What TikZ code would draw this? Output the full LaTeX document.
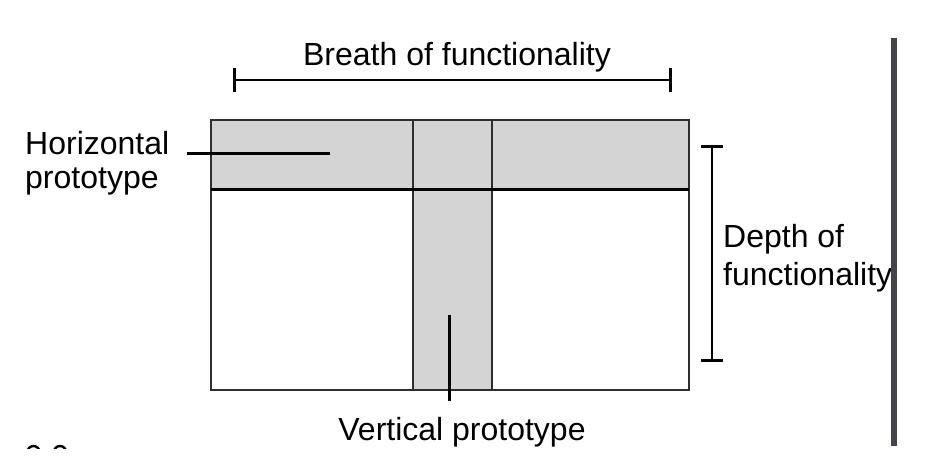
\documentclass[tikz,border=0pt]{standalone}
\usepackage{fontspec}
\setmainfont{Liberation Sans}
\usetikzlibrary{arrows.meta}
\definecolor{bandgrey}{HTML}{D4D4D4}
\definecolor{edgegrey}{HTML}{2E2E2E}
\definecolor{bargrey}{HTML}{434548}
\begin{document}
\begin{tikzpicture}[x=1pt,y=-1pt,
  lbl/.style={font=\fontsize{32}{34}\selectfont, inner sep=0pt, anchor=base west},
  bandbox/.style={fill=bandgrey, draw=none, inner sep=0pt},
  edge/.style={draw=edgegrey, line width=1.8pt},
  ptr/.style={line width=3pt, black},
  dimline/.style={line width=2.6pt, black, {Bar[width=24pt]}-{Bar[width=24pt]}}]
\useasboundingbox (0,0) rectangle (936,475);
% bands
\node[bandbox, minimum width=478pt, minimum height=69pt] (hband) at (450,154.5) {};
\node[bandbox, minimum width=79pt, minimum height=270pt] (vband) at (452.5,255) {};
% frame
\node[edge, inner sep=0pt, minimum width=478pt, minimum height=270pt] (frame) at (450,255) {};
\draw[edge] (vband.north west) -- (vband.south west);
\draw[edge] (vband.north east) -- (vband.south east);
\draw[line width=3.4pt, black] (hband.south west) -- (hband.south east);
% labels
\node[lbl, anchor=base] (breath) at (457,65) {Breath of functionality};
\node[lbl] (horA) at (25,154) {Horizontal};
\node[lbl] (horB) at (25,188) {prototype};
\node[lbl, anchor=base] (vert) at (462,440) {Vertical prototype};
\node[lbl] (depA) at (723,247) {Depth of};
\node[lbl] (depB) at (723,285) {functionality};
% pointers
\coordinate (hpS) at (187,153);
\coordinate (hpE) at (330,153);
\draw[ptr] (hpS) -- (hpE);
\coordinate (vpS) at (449,315);
\coordinate (vpE) at (449,401);
\draw[ptr] (vpS) -- (vpE);
% dimensions
\coordinate (bL) at (233,80);
\coordinate (bR) at (672,80);
\draw[dimline] (bL) -- (bR);
\coordinate (dT) at (712,145);
\coordinate (dB) at (712,362);
\draw[dimline, {Bar[width=22pt]}-{Bar[width=22pt]}] (dT) -- (dB);
% right bar
\fill[bargrey] (891,38) rectangle (897,446);
% clipped marks bottom left
\begin{scope}
\clip (0,440) rectangle (100,448);
\draw[line width=2.4pt, black] (33.5,452) ellipse [x radius=6pt, y radius=6pt];
\draw[line width=2.4pt, black] (60,452) ellipse [x radius=6pt, y radius=6pt];
\end{scope}
\end{tikzpicture}
\end{document}
